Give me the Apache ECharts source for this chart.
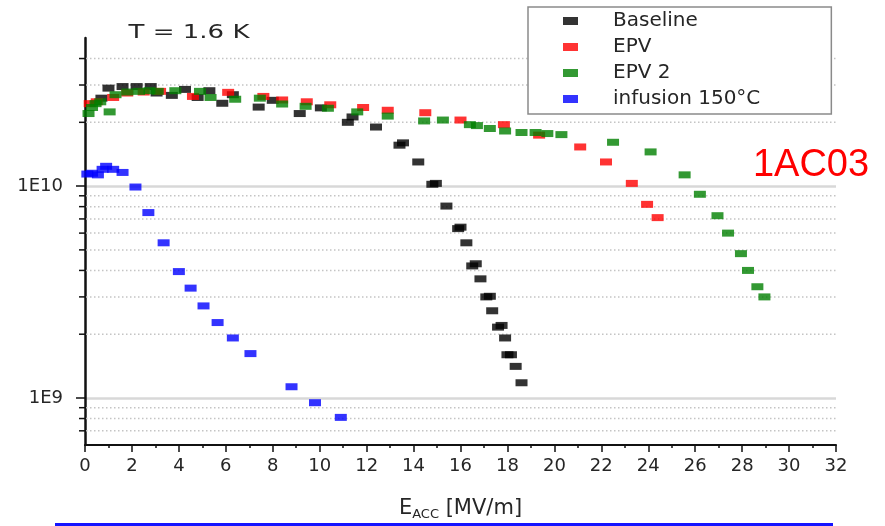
<!DOCTYPE html>
<html>
<head>
<meta charset="utf-8">
<script src="https://cdn.jsdelivr.net/npm/echarts@6/dist/echarts.min.js"></script>
<style>
  html, body { margin: 0; padding: 0; background: #fff; }
  #chart { width: 885px; height: 526px; }
</style>
</head>
<body>
<div id="chart"></div>
<script>
// Q0 vs Eacc, 1AC03, T = 1.6 K
var baseline = [
  [0.7, 2.6e10], [1.0, 2.9e10], [1.6, 2.95e10], [2.2, 2.95e10], [2.8, 2.95e10],
  [3.05, 2.75e10], [3.7, 2.68e10], [4.26, 2.86e10], [4.8, 2.62e10], [5.3, 2.82e10],
  [5.85, 2.46e10], [6.3, 2.7e10], [7.4, 2.36e10], [8.0, 2.54e10], [9.15, 2.2e10],
  [10.05, 2.34e10], [11.2, 2.0e10], [11.4, 2.12e10], [12.4, 1.9e10], [13.4, 1.56e10],
  [13.55, 1.6e10], [14.2, 1.3e10], [14.8, 1.02e10], [14.95, 1.03e10], [15.4, 8.05e9],
  [15.9, 6.3e9], [16.0, 6.4e9], [16.25, 5.4e9], [16.5, 4.2e9], [16.65, 4.3e9],
  [16.85, 3.65e9], [17.1, 3.0e9], [17.25, 3.02e9], [17.35, 2.58e9], [17.6, 2.16e9],
  [17.75, 2.2e9], [17.9, 1.92e9], [18.0, 1.6e9], [18.15, 1.6e9], [18.35, 1.41e9],
  [18.6, 1.18e9]
];
var epv = [
  [0.2, 2.45e10], [0.5, 2.5e10], [1.2, 2.62e10], [1.8, 2.75e10], [2.5, 2.78e10],
  [3.2, 2.8e10], [4.6, 2.65e10], [6.1, 2.77e10], [7.6, 2.65e10], [8.4, 2.55e10],
  [9.45, 2.5e10], [10.45, 2.42e10], [11.85, 2.35e10], [12.9, 2.28e10], [14.5, 2.22e10],
  [16.0, 2.05e10], [17.85, 1.95e10], [19.35, 1.74e10], [21.1, 1.53e10], [22.2, 1.3e10],
  [23.3, 1.03e10], [23.95, 8.2e9], [24.4, 7.1e9]
];
var epv2 = [
  [0.15, 2.2e10], [0.3, 2.35e10], [0.45, 2.45e10], [0.65, 2.5e10], [1.05, 2.24e10],
  [1.3, 2.7e10], [1.8, 2.78e10], [2.3, 2.8e10], [2.75, 2.82e10], [3.1, 2.8e10],
  [3.85, 2.82e10], [4.9, 2.8e10], [5.35, 2.62e10], [6.4, 2.57e10], [7.45, 2.6e10],
  [8.4, 2.44e10], [9.4, 2.38e10], [10.35, 2.33e10], [11.6, 2.24e10], [12.9, 2.14e10],
  [14.45, 2.03e10], [15.25, 2.05e10], [16.4, 1.95e10], [16.7, 1.93e10], [17.25, 1.87e10],
  [17.9, 1.82e10], [18.6, 1.79e10], [19.2, 1.79e10], [19.7, 1.77e10], [20.3, 1.75e10],
  [22.5, 1.61e10], [24.1, 1.45e10], [25.55, 1.13e10], [26.2, 9.15e9], [26.95, 7.25e9],
  [27.4, 6.0e9], [27.95, 4.8e9], [28.25, 4.0e9], [28.65, 3.35e9], [28.95, 3.0e9]
];
var infusion = [
  [0.1, 1.14e10], [0.3, 1.15e10], [0.55, 1.13e10], [0.75, 1.2e10], [0.9, 1.24e10],
  [1.2, 1.2e10], [1.6, 1.16e10], [2.15, 0.99e10], [2.7, 7.5e9], [3.35, 5.4e9],
  [4.0, 3.95e9], [4.5, 3.3e9], [5.05, 2.72e9], [5.65, 2.27e9], [6.3, 1.92e9],
  [7.05, 1.62e9], [8.8, 1.13e9], [9.8, 9.5e8], [10.9, 8.1e8]
];
var seriesNames = ['Baseline', 'EPV', 'EPV 2', 'infusion 150°C'];
// minor log grid lines (2..9 per decade)
var minorTicks = [7e8, 8e8, 9e8, 2e9, 3e9, 4e9, 5e9, 6e9, 7e9, 8e9, 9e9, 2e10, 3e10, 4e10];

var font = 'DejaVu Sans';
var textColor = '#262626';
var colors = ['#000000', '#ff0000', '#008000', '#0000ff'];
var allData = [baseline, epv, epv2, infusion];

var chart = echarts.init(document.getElementById('chart'));

var series = [{
  name: 'minor',
  type: 'custom',
  silent: true,
  z: 1,
  data: minorTicks.map(function (v) { return [0, v]; }),
  renderItem: function (params, api) {
    var v = api.value(1);
    var a = api.coord([0, v]);
    var b = api.coord([32, v]);
    return {
      type: 'group',
      children: [
        { type: 'line', shape: { x1: a[0] + 1, y1: a[1], x2: b[0], y2: b[1] },
          style: { stroke: '#c4c4c4', lineWidth: 1.5, lineDash: [1.5, 2.5] } },
        { type: 'line', shape: { x1: a[0] - 6, y1: a[1], x2: a[0], y2: a[1] },
          style: { stroke: '#111', lineWidth: 1.5 } }
      ]
    };
  }
}];
seriesNames.forEach(function (n, i) {
  series.push({
    name: n,
    type: 'scatter',
    symbol: 'rect',
    symbolSize: [12, 7],
    z: 3,
    itemStyle: { color: colors[i] },
    data: allData[i]
  });
});

var option = {
  animation: false,
  color: colors,
  grid: { left: 85, right: 49, top: 38, bottom: 74 },
  legend: {
    data: seriesNames,
    orient: 'vertical',
    left: 528,
    top: 7,
    icon: 'rect',
    itemWidth: 15,
    itemHeight: 8,
    itemGap: 6,
    padding: [4, 71, 5, 35],
    backgroundColor: '#fff',
    borderColor: '#8a8a8a',
    borderWidth: 1.5,
    textStyle: { fontFamily: font, fontSize: 20, lineHeight: 20, color: textColor, padding: [0, 0, 0, 30] }
  },
  xAxis: {
    type: 'value',
    min: 0,
    max: 32,
    interval: 2,
    name: '{e|E}{s|ACC}{e| [MV/m]}',
    nameLocation: 'middle',
    nameGap: 52,
    nameTextStyle: {
      rich: {
        e: { fontFamily: font, fontSize: 21, lineHeight: 24, color: textColor },
        s: { fontFamily: font, fontSize: 13, lineHeight: 24, color: textColor, verticalAlign: 'bottom' }
      }
    },
    axisLine: { lineStyle: { color: '#111', width: 2 } },
    axisTick: { length: 7, lineStyle: { color: '#111', width: 1.5 } },
    minorTick: { show: true, splitNumber: 2, length: 3, lineStyle: { color: '#111', width: 1.5 } },
    axisLabel: { fontFamily: font, fontSize: 18, color: textColor, margin: 12 },
    splitLine: { show: false }
  },
  yAxis: {
    type: 'log',
    logBase: 10,
    min: 6e8,
    max: 5e10,
    axisLine: { show: true, lineStyle: { color: '#111', width: 2.5 } },
    axisTick: { show: true, length: 9, lineStyle: { color: '#111', width: 1.5 } },
    axisLabel: {
      fontFamily: font, fontSize: 18, color: textColor, margin: 22,
      showMinLabel: false, showMaxLabel: false,
      formatter: function (v) { return '1E' + Math.round(Math.log10(v)); }
    },
    splitLine: { show: true, showMinLine: false, showMaxLine: false,
      lineStyle: { color: '#d8d8d8', width: 2.5 } }
  },
  graphic: [
    { type: 'text', x: 270, y: 33, scaleX: 1.3, originX: 270,
      style: { text: 'T = 1.6 K', font: '20px "DejaVu Sans"', fill: textColor,
        textAlign: 'center', textVerticalAlign: 'middle' } },
    { type: 'text', x: 811, y: 166,
      style: { text: '1AC03', font: '38px "Liberation Sans"', fill: '#ff0000',
        textAlign: 'center', textVerticalAlign: 'middle' } },
    { type: 'line', shape: { x1: 55, y1: 524.5, x2: 833, y2: 524.5 },
      style: { stroke: '#1414ff', lineWidth: 3 } }
  ],
  series: series
};
chart.setOption(option);
</script>
</body>
</html>
